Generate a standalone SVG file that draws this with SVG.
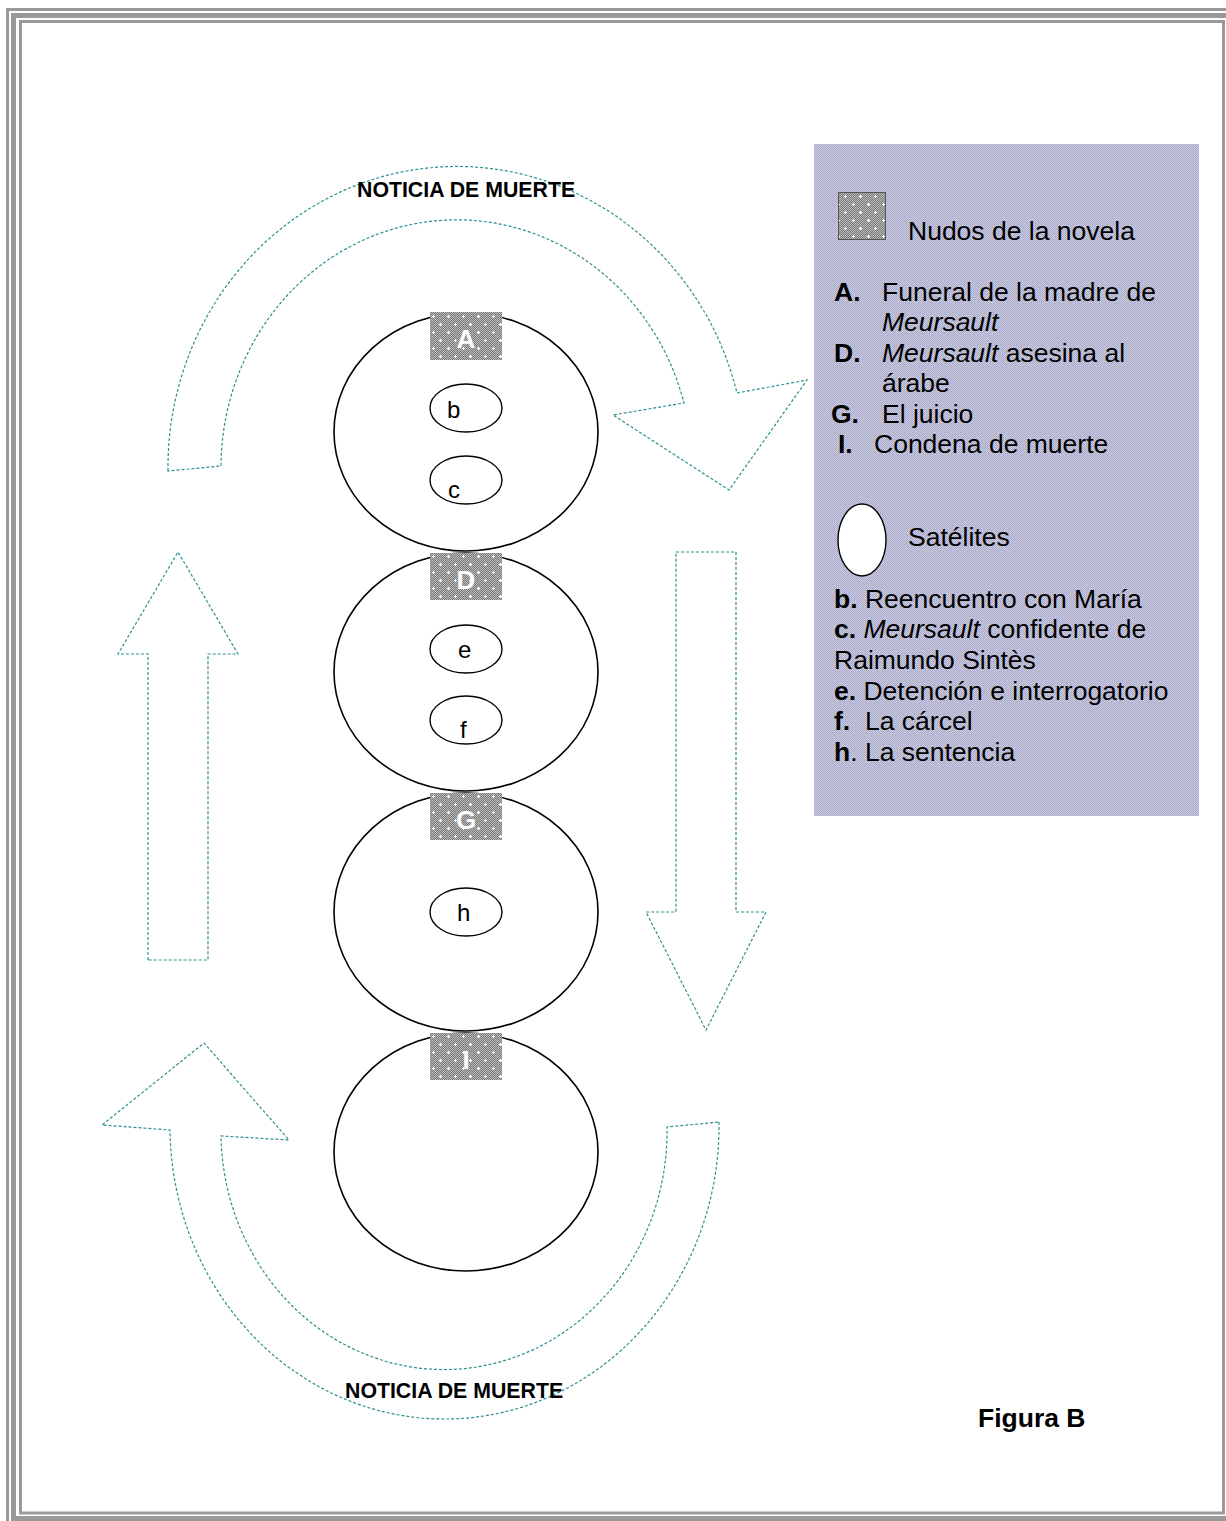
<svg xmlns="http://www.w3.org/2000/svg" width="1226" height="1521" viewBox="0 0 1226 1521">
<defs>
<pattern id="chk" x="0" y="0" width="2" height="2" patternUnits="userSpaceOnUse">
<rect width="2" height="2" fill="#7c7c7c"/>
<rect width="1" height="1" fill="#b8b8b8"/>
<rect x="1" y="1" width="1" height="1" fill="#b8b8b8"/>
</pattern>
<pattern id="plus" x="430" y="312" width="15" height="16" patternUnits="userSpaceOnUse">
<path d="M2 4h3v1H2zM3 3h1v3H3zM9 12h3v1H9zM10 11h1v3h-1z" fill="#ffffff"/>
</pattern>
<pattern id="lav" x="0" y="0" width="2" height="2" patternUnits="userSpaceOnUse">
<rect width="2" height="2" fill="#cdcde2"/>
<rect width="1" height="1" fill="#a8a8c8"/>
<rect x="1" y="1" width="1" height="1" fill="#a8a8c8"/>
</pattern>
</defs>
<style>
.frame{fill:none;stroke:#999999}
.big{fill:#ffffff;stroke:#000000;stroke-width:1.6}
.sat{fill:#ffffff;stroke:#000000;stroke-width:1.4}
.arrow{fill:none;stroke:#2f8f8f;stroke-width:1.2;stroke-dasharray:3 2}
.t{font-family:"Liberation Sans",Arial,sans-serif;fill:#000000}
.lg{font-size:26.5px}
.b{font-weight:bold}
.i{font-style:italic}
.knotlbl{font-family:"Liberation Sans",Arial,sans-serif;font-size:26px;font-weight:bold;fill:#ffffff;text-anchor:middle}
.sl{font-family:"Liberation Sans",Arial,sans-serif;font-size:24px;fill:#000000}
.nm{font-family:"Liberation Sans",Arial,sans-serif;font-size:21.3px;font-weight:bold;fill:#000000}
</style>
<rect width="1226" height="1521" fill="#ffffff"/>
<g id="frame">
<rect class="frame" x="7.5" y="9.5" width="1240" height="1540" stroke-width="3"/>
<rect class="frame" x="13.5" y="15.5" width="1215" height="1503" stroke-width="5"/>
<rect class="frame" x="20.5" y="21.5" width="1203" height="1491.5" stroke-width="3"/>
</g>
<g id="connectors">
<path class="arrow" d="M168 471 A289 301 0 0 1 737 393 L807 380 L729 490 L613 415 L684 403 A235.6 248 0 0 0 221 466 Z"/>
<path class="arrow" d="M719 1122 A274.5 293 0 0 1 170 1130 L102 1125 L204 1043 L289 1140 L221 1136 A223 238 0 0 0 667 1127 Z"/>
<path class="arrow" d="M148 960 L148 654 L118 654 L178 552 L238 654 L208 654 L208 960 Z"/>
<path class="arrow" d="M676 552 L736 552 L736 912 L766 912 L706 1030 L646 912 L676 912 Z"/>
</g>
<g id="label-top"><text class="nm" x="357" y="197">NOTICIA DE MUERTE</text></g>
<g id="label-bottom"><text class="nm" x="345" y="1398">NOTICIA DE MUERTE</text></g>
<g id="node-A">
<ellipse class="big" cx="466" cy="432" rx="132" ry="119"/>
<rect x="430" y="312" width="72" height="48" fill="url(#chk)"/>
<rect x="430" y="312" width="72" height="48" fill="url(#plus)"/>
<text class="knotlbl" x="466" y="348">A</text>
</g>
<g id="node-b"><ellipse class="sat" cx="466" cy="408" rx="36" ry="24"/><text class="sl" x="447" y="418">b</text></g>
<g id="node-c"><ellipse class="sat" cx="466" cy="480" rx="36" ry="24"/><text class="sl" x="448" y="498">c</text></g>
<g id="node-D">
<ellipse class="big" cx="466" cy="672" rx="132" ry="119"/>
<rect x="430" y="553" width="72" height="47" fill="url(#chk)"/>
<rect x="430" y="553" width="72" height="47" fill="url(#plus)"/>
<text class="knotlbl" x="466" y="589">D</text>
</g>
<g id="node-e"><ellipse class="sat" cx="466" cy="649" rx="36" ry="24"/><text class="sl" x="458" y="658">e</text></g>
<g id="node-f"><ellipse class="sat" cx="466" cy="720" rx="36" ry="24"/><text class="sl" x="460" y="738">f</text></g>
<g id="node-G">
<ellipse class="big" cx="466" cy="912" rx="132" ry="119"/>
<rect x="430" y="793" width="72" height="47" fill="url(#chk)"/>
<rect x="430" y="793" width="72" height="47" fill="url(#plus)"/>
<text class="knotlbl" x="466" y="829">G</text>
</g>
<g id="node-h"><ellipse class="sat" cx="466" cy="912" rx="36" ry="24"/><text class="sl" x="457" y="921">h</text></g>
<g id="node-I">
<ellipse class="big" cx="466" cy="1152" rx="132" ry="119"/>
<rect x="430" y="1033" width="72" height="47" fill="url(#chk)"/>
<rect x="430" y="1033" width="72" height="47" fill="url(#plus)"/>
<text class="knotlbl" x="466" y="1069">I</text>
</g>
<g id="legend">
<rect x="814" y="144" width="385" height="672" fill="url(#lav)"/>
<rect x="838.5" y="192.5" width="47" height="47" fill="url(#chk)"/>
<rect x="838.5" y="192.5" width="47" height="47" fill="url(#plus)" stroke="#555555" stroke-width="1"/>
<text class="t lg" x="908" y="240">Nudos de la novela</text>
<text class="t lg" y="301"><tspan class="b" x="834">A.</tspan><tspan x="882">Funeral de la madre de</tspan></text>
<text class="t lg i" x="882" y="331">Meursault</text>
<text class="t lg" y="362"><tspan class="b" x="834">D.</tspan><tspan class="i" x="882">Meursault</tspan><tspan> asesina al</tspan></text>
<text class="t lg" x="882" y="392">árabe</text>
<text class="t lg" y="423"><tspan class="b" x="831">G.</tspan><tspan x="882">El juicio</tspan></text>
<text class="t lg" y="453"><tspan class="b" x="838">I.</tspan><tspan x="874">Condena de muerte</tspan></text>
<ellipse class="sat" cx="862" cy="540" rx="24" ry="36"/>
<text class="t lg" x="908" y="546">Satélites</text>
<text class="t lg" x="834" y="608"><tspan class="b">b.</tspan> Reencuentro con María</text>
<text class="t lg" x="834" y="638"><tspan class="b">c.</tspan> <tspan class="i">Meursault</tspan> confidente de</text>
<text class="t lg" x="834" y="669">Raimundo Sintès</text>
<text class="t lg" x="834" y="700"><tspan class="b">e.</tspan> Detención e interrogatorio</text>
<text class="t lg" y="730"><tspan class="b" x="834">f.</tspan><tspan x="865">La cárcel</tspan></text>
<text class="t lg" x="834" y="761"><tspan class="b">h</tspan>. La sentencia</text>
</g>
<g id="caption"><text class="t lg b" x="978" y="1427">Figura B</text></g>
</svg>
